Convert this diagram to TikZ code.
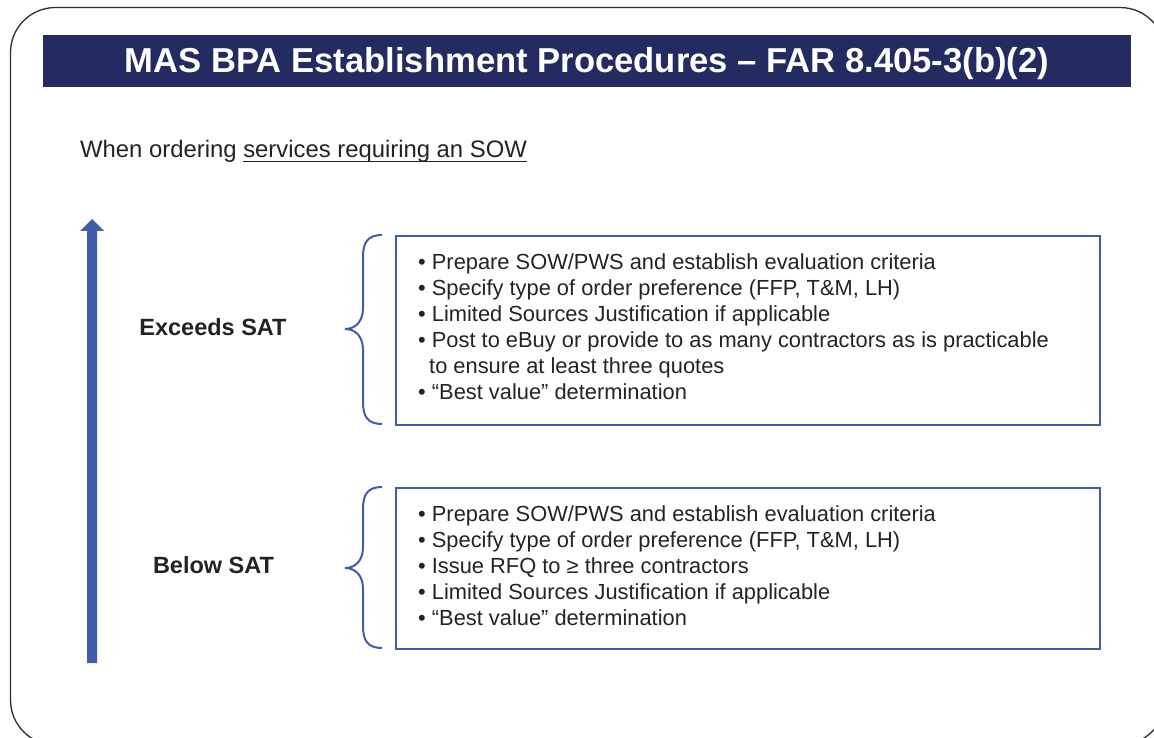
\documentclass[tikz,border=0pt]{standalone}
\usepackage{fontspec}
\setmainfont{Liberation Sans}
\definecolor{navy}{RGB}{35,43,96}
\definecolor{tierblue}{RGB}{66,92,172}
\definecolor{ink}{RGB}{35,35,35}
\definecolor{framegray}{RGB}{45,45,45}
% underline set at a fixed depth below the baseline
\newcommand{\myul}[1]{\setbox0\hbox{#1}\rlap{\rule[-4.7pt]{\wd0}{1.3pt}}\box0}
\tikzset{
  frame/.style={draw=framegray, line width=1.3pt, rounded corners=45pt},
  tierbox/.style={draw=tierblue, line width=2pt, inner sep=0pt, anchor=north west},
  brace/.style={draw=tierblue, line width=2pt},
  item/.style={anchor=base west, inner sep=0pt, text=ink, font=\fontsize{21.85}{26}\selectfont},
  tier/.style={anchor=base, inner sep=0pt, text=ink, font=\bfseries\fontsize{23.5}{28}\selectfont},
}
\begin{document}
\begin{tikzpicture}[x=1pt,y=-1pt]
\useasboundingbox (0,0) rectangle (1154,738);
% outer rounded frame, running past the page edges
\begin{scope}
  \clip (0,0) rectangle (1154,738);
  \draw[frame] (10.5,7.5) rectangle (1165,745);
\end{scope}
% title banner
\node[fill=navy, minimum width=1088pt, minimum height=52pt, inner sep=0pt, anchor=north west] (banner) at (43,35) {};
\node[anchor=base, inner sep=0pt, text=white, font=\bfseries\fontsize{34.6}{40}\selectfont] (title) at (587,73)
  {MAS BPA Establishment Procedures – FAR 8.405-3(b)(2)};
% intro line
\node[anchor=base west, inner sep=0pt, text=ink, font=\fontsize{23.85}{28}\selectfont] (intro) at (80,157.3)
  {When ordering \myul{services requiring an SOW}};
% rising threshold arrow
\fill[tierblue] (87,663) -- (87,231) -- (80,231) -- (92,219) -- (104,231) -- (97,231) -- (97,663) -- cycle;
% tier labels
\node[tier] (exlabel) at (213,335) {Exceeds SAT};
\node[tier] (belabel) at (213.5,573) {Below SAT};
% boxes
\node[tierbox, minimum width=704pt, minimum height=189pt] (exbox) at (395,235) {};
\node[tierbox, minimum width=704pt, minimum height=161pt] (bebox) at (395,487) {};
% braces
\draw[brace] (382,235) .. controls (368,235) and (363,242) .. (363,257) -- (363,308)
  .. controls (363,321) and (356,329) .. (345,329) .. controls (356,329) and (363,337) .. (363,350)
  -- (363,402) .. controls (363,417) and (368,424) .. (382,424);
\draw[brace] (382,487) .. controls (368,487) and (363,494) .. (363,509) -- (363,547)
  .. controls (363,560) and (356,568) .. (345,568) .. controls (356,568) and (363,576) .. (363,589)
  -- (363,626) .. controls (363,641) and (368,648) .. (382,648);
% items above the SAT
\foreach \t [count=\i] in {%
  {• Prepare SOW/PWS and establish evaluation criteria},
  {• Specify type of order preference (FFP, T\&M, LH)},
  {• Limited Sources Justification if applicable},
  {• Post to eBuy or provide to as many contractors as is practicable},
  {\hspace*{11pt}to ensure at least three quotes},
  {• “Best value” determination}}
  \node[item] (ex\i) at (418,{269.5+26*(\i-1)}) {\t};
% items below the SAT
\foreach \t [count=\i] in {%
  {• Prepare SOW/PWS and establish evaluation criteria},
  {• Specify type of order preference (FFP, T\&M, LH)},
  {• Issue RFQ to ≥ three contractors},
  {• Limited Sources Justification if applicable},
  {• “Best value” determination}}
  \node[item] (be\i) at (418,{521.5+26*(\i-1)}) {\t};
\end{tikzpicture}
\end{document}
